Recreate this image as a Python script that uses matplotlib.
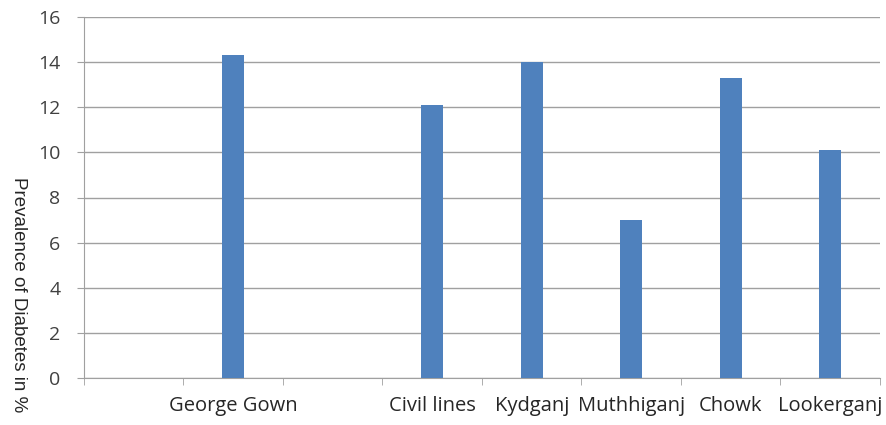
import matplotlib
matplotlib.use("Agg")
import matplotlib.pyplot as plt

areas = ["", "George Gown", "", "Civil lines", "Kydganj", "Muthhiganj", "Chowk", "Lookerganj"]
prevalence = [0, 14.3, 0, 12.1, 14.0, 7.0, 13.3, 10.1]

plt.rcParams["font.family"] = ["Open Sans", "DejaVu Sans"]

fig = plt.figure(figsize=(8.87, 4.25), dpi=100)
ax = fig.add_axes([84 / 887, 1 - 378 / 425, 796 / 887, 361 / 425])

x = list(range(len(areas)))
ax.bar(x, prevalence, width=0.22, color="#4F81BD", zorder=3)

ax.set_xlim(-0.5, len(areas) - 0.5)
ax.set_ylim(0, 16)
ax.set_yticks(range(0, 17, 2))
ax.tick_params(axis="y", labelsize=14, labelcolor="#404040", length=5, color="#A0A0A0", pad=12)
ax.yaxis.grid(True, color="#A0A0A0", linewidth=1, zorder=0)

ax.set_xticks(x)
ax.set_xticklabels(areas, fontsize=14.5, color="#262626")
ax.tick_params(axis="x", length=0, pad=13)
ax.set_xticks([i - 0.5 for i in range(len(areas) + 1)], minor=True)
ax.tick_params(axis="x", which="minor", length=5, color="#A0A0A0")

for side in ["top", "right"]:
    ax.spines[side].set_visible(False)
for side in ["left", "bottom"]:
    ax.spines[side].set_color("#A0A0A0")

fig.text(18 / 887, 1 - 295 / 425, "Prevalence of Diabetes in %", rotation=270,
         ha="center", va="center", fontsize=13.5, color="#262626",
         family=["Liberation Sans", "DejaVu Sans"])

fig.savefig("out.png")
